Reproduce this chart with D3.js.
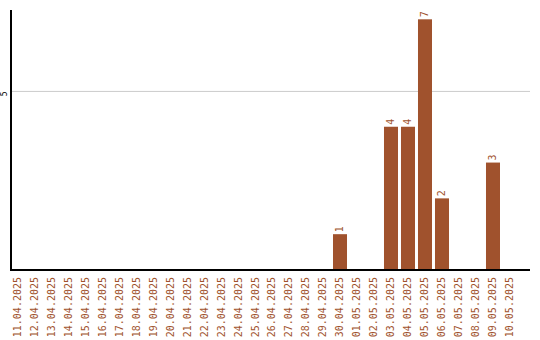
<!DOCTYPE html>
<html>
<head>
<meta charset="utf-8">
<script src="https://cdn.jsdelivr.net/npm/d3@7"></script>
<style>
  body { margin: 0; background: #fff; }
  svg { display: block; }
</style>
</head>
<body>
<div id="chart"></div>
<script>
// data
const dates = ["11.04.2025","12.04.2025","13.04.2025","14.04.2025","15.04.2025","16.04.2025",
  "17.04.2025","18.04.2025","19.04.2025","20.04.2025","21.04.2025","22.04.2025","23.04.2025",
  "24.04.2025","25.04.2025","26.04.2025","27.04.2025","28.04.2025","29.04.2025","30.04.2025",
  "01.05.2025","02.05.2025","03.05.2025","04.05.2025","05.05.2025","06.05.2025","07.05.2025",
  "08.05.2025","09.05.2025","10.05.2025"];
const counts = [0,0,0,0,0,0,0,0,0,0,0,0,0,0,0,0,0,0,0,1,0,0,4,4,7,2,0,0,3,0];
const yTicks = [5];

const color = "#a0522d";
const width = 540, height = 340;

const svg = d3.select("#chart").append("svg")
    .attr("width", width)
    .attr("height", height);

// scales
const x = d3.scaleBand()
    .domain(dates)
    .range([10, 517])
    .paddingInner(0.176)
    .paddingOuter(0);

const y = d3.scaleLinear()
    .domain([0, 7.26])
    .range([270, 10]);

// gridlines
svg.append("g")
    .selectAll("line")
    .data(yTicks)
    .join("line")
    .attr("x1", 11).attr("x2", 530)
    .attr("y1", d => y(d) + 0.5).attr("y2", d => y(d) + 0.5)
    .attr("stroke", "#cccccc");

// y tick labels
svg.append("g")
    .selectAll("text")
    .data(yTicks)
    .join("text")
    .attr("transform", d => `translate(7,${y(d) + 3}) rotate(-90)`)
    .attr("text-anchor", "middle")
    .attr("font-family", "DejaVu Sans Mono, monospace")
    .attr("font-size", 8)
    .attr("fill", "#000")
    .text(d => d);

// bars
svg.append("g")
    .selectAll("rect")
    .data(counts)
    .join("rect")
    .attr("x", (d, i) => x(dates[i]))
    .attr("y", d => y(d))
    .attr("width", x.bandwidth())
    .attr("height", d => y(0) - y(d))
    .attr("fill", color);

// value labels
svg.append("g")
    .selectAll("text")
    .data(counts.map((d, i) => ({ d, i })).filter(o => o.d > 0))
    .join("text")
    .attr("transform", o => `translate(${x(dates[o.i]) + x.bandwidth() / 2 + 3},${y(o.d) - 2}) rotate(-90)`)
    .attr("text-anchor", "start")
    .attr("font-family", "DejaVu Sans Mono, monospace")
    .attr("font-size", 10)
    .attr("fill", color)
    .text(o => o.d);

// axes lines
svg.append("line")
    .attr("x1", 11).attr("x2", 11)
    .attr("y1", 10).attr("y2", 271)
    .attr("stroke", "#000").attr("stroke-width", 2);
svg.append("line")
    .attr("x1", 10).attr("x2", 530)
    .attr("y1", 270).attr("y2", 270)
    .attr("stroke", "#000").attr("stroke-width", 2);

// x labels
svg.append("g")
    .selectAll("text")
    .data(dates)
    .join("text")
    .attr("transform", d => `translate(${x(d) + x.bandwidth() / 2 + 3.5},277) rotate(-90)`)
    .attr("text-anchor", "end")
    .attr("font-family", "DejaVu Sans Mono, monospace")
    .attr("font-size", 10)
    .attr("fill", color)
    .text(d => d);
</script>
</body>
</html>
